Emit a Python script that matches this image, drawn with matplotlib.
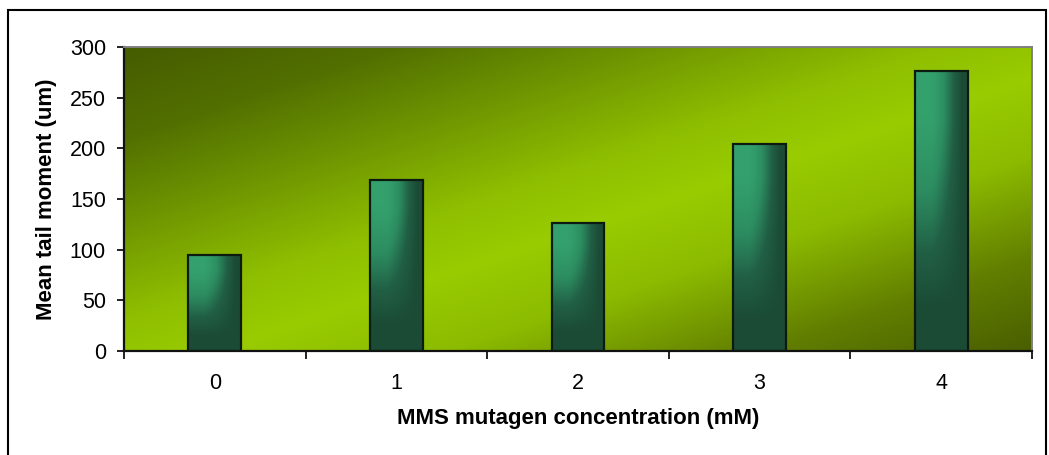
# -Importieren der Bibliotheken----------------------------------------------------------------------------------------#

import numpy as np
import matplotlib.pyplot as plt
from matplotlib.colors import LinearSegmentedColormap
from matplotlib.patches import Rectangle

# -Daten---------------------------------------------------------------------------------------------------------------#

concentration = ['0', '1', '2', '3', '4']
tail_moment = [95, 169, 126, 204, 276]
yticks = [0, 50, 100, 150, 200, 250, 300]

# -Farbverlaeufe-------------------------------------------------------------------------------------------------------#

bg_cmap = LinearSegmentedColormap.from_list('bg', [(0.0, '#465c00'), (0.15, '#527000'),
                                                    (0.45, '#8fbf00'), (0.55, '#99cc00'),
                                                    (0.68, '#8cbb00'), (0.85, '#627f00'),
                                                    (1.0, '#4a5f00')])
bar_cmap = LinearSegmentedColormap.from_list('bar', ['#34a16d', '#2c8c60', '#215f45', '#1b4b35'])

plt.rcParams['font.family'] = ['Liberation Sans', 'DejaVu Sans']

fig = plt.figure(figsize=(10.49, 4.55), dpi=100)
ax = fig.add_axes([124/1049, 104/455, 908/1049, 304/455])

# Hintergrund: diagonal, dunkel oben links und unten rechts
u, v = np.meshgrid(np.linspace(0, 1, 400), np.linspace(0, 1, 200))
s = (u + v) / 2  # v = 0 oben
ax.imshow(s, cmap=bg_cmap, extent=[-0.5, 4.5, 0, 300], aspect='auto', origin='upper', zorder=0)

# Balken mit Verlauf (links hell, rechts und unten dunkel)
width = 0.29
bu, bv = np.meshgrid(np.linspace(0, 1, 60), np.linspace(0, 1, 120))
shade_x = np.clip((bu - 0.3) / 0.6, 0, 1) ** 1.3
shade_y = np.clip((bv - 0.15) / 0.7, 0, 1) ** 1.2
shade = 1 - (1 - shade_x) * (1 - shade_y)
for i, val in enumerate(tail_moment):
    im = ax.imshow(shade, cmap=bar_cmap, vmin=0, vmax=1, extent=[i - width/2, i + width/2, 0, val],
                   aspect='auto', origin='upper', zorder=2, interpolation='bilinear')
    rect = Rectangle((i - width/2, 0), width, val, transform=ax.transData)
    im.set_clip_path(rect)
bars = ax.bar(range(len(tail_moment)), tail_moment, width=width, facecolor='none',
              edgecolor='#0d1a12', lw=1.6, zorder=3)

# -Achsen--------------------------------------------------------------------------------------------------------------#

ax.set_xlim(-0.5, 4.5)
ax.set_ylim(0, 300)
ax.set_yticks(yticks)
ax.set_yticklabels([str(t) for t in yticks], fontsize=15.5)
ax.set_xticks(np.arange(-0.5, 4.6, 1.0))
ax.set_xticklabels([])
ax.set_xticks(range(len(concentration)), minor=True)
ax.set_xticklabels(concentration, minor=True, fontsize=15.5)
ax.tick_params(axis='x', which='major', length=6, width=1.3, direction='out', color='#111111')
ax.tick_params(axis='x', which='minor', length=0, pad=16)
ax.tick_params(axis='y', length=5, width=1.3, direction='out', color='#111111', pad=8)

for side in ['left', 'bottom']:
    ax.spines[side].set_color('#111111')
    ax.spines[side].set_linewidth(1.6)
for side in ['top', 'right']:
    ax.spines[side].set_color('#808080')
    ax.spines[side].set_linewidth(1.4)

ax.set_ylabel('Mean tail moment (um)', fontsize=16, fontweight='bold')
ax.set_xlabel('MMS mutagen concentration (mM)', fontsize=16, fontweight='bold', labelpad=10)
ax.yaxis.set_label_coords(-0.074, 0.5)

# Rahmen um das Diagramm
fig.patches.append(Rectangle((8/1049, -0.01), 1038/1049, 1 - 10/455 + 0.01, transform=fig.transFigure,
                             fill=False, edgecolor='black', lw=1.5))

fig.savefig('out.png', dpi=100)
